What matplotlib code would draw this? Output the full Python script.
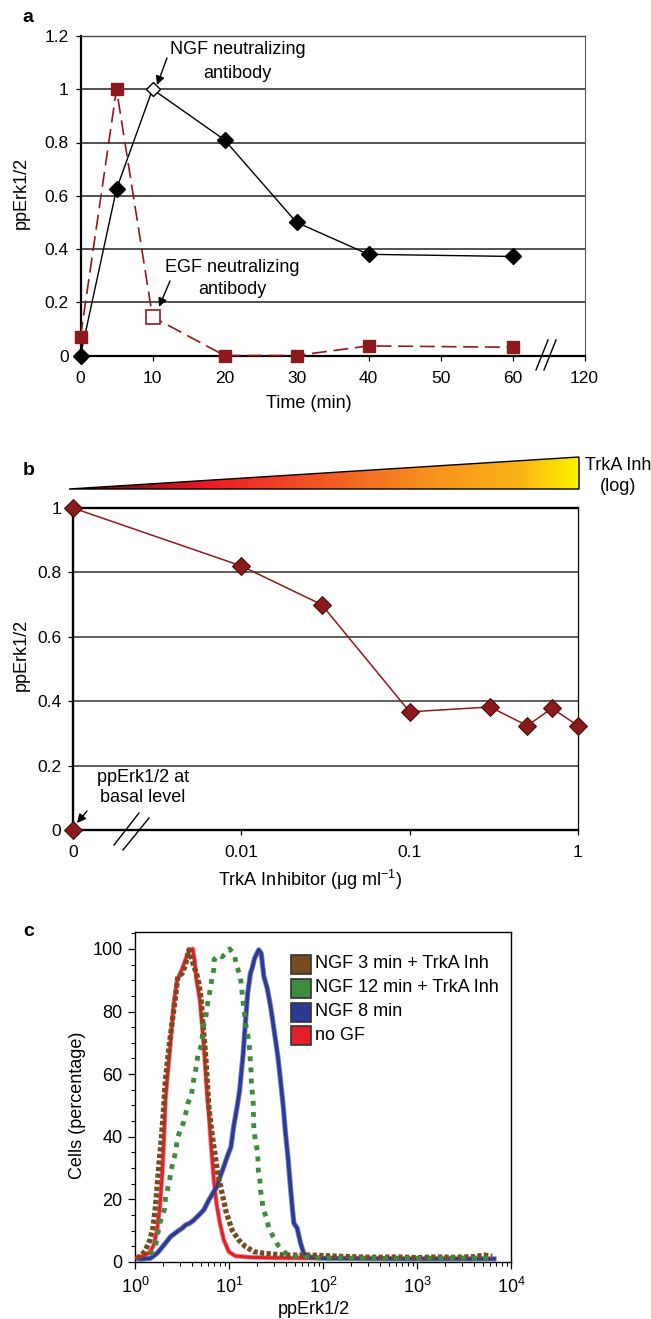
import numpy as np
import matplotlib
matplotlib.use('Agg')
import matplotlib.pyplot as plt
from matplotlib.colors import LinearSegmentedColormap
from matplotlib.patches import Polygon, Rectangle
from matplotlib.lines import Line2D
from matplotlib.ticker import MultipleLocator, FixedLocator, NullLocator, LogLocator

plt.rcParams['font.family'] = ['Liberation Sans', 'DejaVu Sans']
plt.rcParams['mathtext.fontset'] = 'custom'
plt.rcParams['mathtext.rm'] = 'Liberation Sans'
plt.rcParams['mathtext.it'] = 'Liberation Sans:italic'
plt.rcParams['mathtext.bf'] = 'Liberation Sans:bold'
plt.rcParams['mathtext.default'] = 'regular'

# ---------------- data: panel a ----------------
time_min = [0, 5, 10, 20, 30, 40, 60]
ngf_pperk = [0.0, 0.625, 1.0, 0.81, 0.50, 0.38, 0.372]
egf_pperk = [0.07, 1.0, 0.145, 0.0, 0.0, 0.036, 0.031]
a_xtick_pos = [0, 10, 20, 30, 40, 50, 60, 70]
a_xtick_labels = ['0', '10', '20', '30', '40', '50', '60', '120']
a_yticks = [0, 0.2, 0.4, 0.6, 0.8, 1.0, 1.2]
a_ytick_labels = ['0', '0.2', '0.4', '0.6', '0.8', '1', '1.2']

# ---------------- data: panel b ----------------
trka_conc = [0, 0.01, 0.03, 0.1, 0.3, 0.5, 0.7, 1.0]
trka_pperk = [1.0, 0.82, 0.70, 0.367, 0.382, 0.324, 0.378, 0.324]
basal_conc = [0]
basal_pperk = [0.0]
b_xticks = [0.001, 0.01, 0.1, 1]
b_xtick_labels = ['0', '0.01', '0.1', '1']
b_yticks = [0, 0.2, 0.4, 0.6, 0.8, 1.0]
b_ytick_labels = ['0', '0.2', '0.4', '0.6', '0.8', '1']

# ---------------- data: panel c (flow cytometry histograms) ----------------
nogf_x = [1.04, 1.29, 1.46, 1.58, 1.72, 1.84, 1.95, 2.03, 2.11, 2.23, 2.35, 2.48, 2.59,
          2.81, 3.10, 3.44, 3.83, 4.12, 4.30, 4.51, 4.90, 5.19, 5.50, 5.77, 6.10, 6.46,
          6.90, 7.36, 8.00, 8.81, 9.95, 11.7, 16.9, 31.6, 79.0]
nogf_y = [1.4, 2.2, 3.3, 5.4, 10.2, 17.7, 28.3, 39.0, 51.8, 60.3, 67.7, 76.3, 82.6,
          90.1, 92.8, 96.5, 99.7, 100.0, 96.5, 90.1, 83.7, 75.2, 65.6, 56.0, 47.5, 36.8,
          26.2, 18.7, 12.4, 7.0, 3.3, 1.9, 1.5, 1.3, 1.2]

ngf3_x = [1.05, 1.15, 1.29, 1.44, 1.56, 1.65, 1.72, 1.79, 1.90, 2.00, 2.08, 2.20, 2.35,
          2.53, 2.70, 2.86, 3.18, 3.44, 3.74, 3.96, 4.23, 4.51, 4.78, 5.06, 5.31, 5.62,
          5.86, 6.10, 6.46, 6.90, 7.60, 8.45, 9.40, 10.8, 12.7, 15.0, 18.4, 23.4, 38.3,
          73.6, 158, 316, 631, 1000, 1585, 2512, 3981, 5248, 6310]
ngf3_y = [1.5, 1.7, 3.8, 7.0, 11.3, 17.7, 24.1, 30.5, 39.0, 47.5, 56.0, 63.5, 70.9,
          78.4, 84.8, 91.2, 92.2, 94.9, 99.7, 97.5, 94.4, 92.2, 89.0, 83.7, 75.2, 66.7,
          58.1, 49.6, 43.2, 36.8, 28.3, 21.9, 15.5, 10.2, 7.0, 4.9, 3.3, 2.8, 2.2,
          2.2, 1.8, 1.5, 1.6, 1.4, 1.6, 1.5, 1.7, 2.2, 1.8]

ngf12_x = [1.46, 1.65, 1.79, 1.90, 2.08, 2.11, 2.23, 2.35, 2.43, 2.59, 2.72, 2.81, 3.00,
           3.31, 3.48, 3.65, 3.99, 4.12, 4.30, 4.51, 4.66, 5.09, 5.22, 5.40, 5.68, 5.86,
           6.10, 6.35, 6.62, 6.90, 6.95, 7.80, 8.45, 9.18, 10.2, 11.5, 12.0, 13.0, 13.5,
           13.8, 14.1, 14.6, 15.0, 15.6, 16.3, 16.7, 16.9, 17.2, 17.3, 17.7, 18.1, 18.2,
           18.3, 18.5, 19.1, 20.0, 20.3, 20.5, 21.3, 21.6, 22.5, 22.9, 25.1, 26.5, 29.5,
           33.1, 38.9, 45.1, 100, 1000, 6310]
ngf12_y = [2.2, 4.9, 10.8, 14.0, 17.2, 20.9, 23.5, 26.7, 29.6, 32.8, 35.5, 39.0, 41.9,
           44.8, 47.7, 50.7, 53.4, 56.5, 59.7, 62.6, 66.1, 69.3, 72.5, 75.7, 78.6, 81.6,
           84.8, 87.4, 91.2, 93.5, 96.7, 98.1, 97.5, 98.4, 100.0, 97.8, 94.6, 91.9, 89.0,
           85.8, 83.2, 79.5, 76.3, 73.6, 70.1, 66.7, 63.7, 60.5, 57.1, 54.1, 50.9, 47.7,
           44.1, 41.6, 38.8, 35.6, 32.8, 29.4, 26.2, 23.0, 20.0, 17.2, 14.0, 10.8, 8.1,
           5.4, 3.1, 1.9, 1.2, 1.2, 1.3]

ngf8_x = [1.10, 1.15, 1.46, 1.72, 2.03, 2.39, 2.81, 3.18, 3.44, 3.83, 4.23, 4.78, 5.40,
          6.10, 6.90, 7.48, 7.80, 8.81, 9.72, 10.5, 11.2, 12.2, 13.0, 13.5, 14.1, 15.0,
          15.8, 16.9, 17.7, 18.7, 20.7, 22.0, 23.5, 25.5, 27.7, 30.5, 33.1, 35.3, 37.8,
          39.9, 42.3, 44.4, 47.0, 49.0, 53.1, 57.7, 62.5, 67.9, 100, 1000, 6607]
ngf8_y = [1.0, 0.9, 1.2, 2.8, 5.4, 8.1, 9.7, 10.8, 11.8, 12.4, 13.4, 15.0, 16.6,
          19.8, 22.5, 24.1, 26.2, 30.5, 34.2, 36.8, 43.2, 49.6, 55.0, 60.3, 66.0, 77.0,
          85.8, 92.2, 94.0, 97.0, 99.7, 98.6, 91.2, 87.4, 81.6, 73.1, 65.6, 58.1, 49.6,
          41.2, 33.7, 26.2, 17.7, 12.4, 10.8, 6.0, 2.8, 1.7, 1.2, 1.0, 1.0]

legend_labels = ['NGF 3 min + TrkA Inh', 'NGF 12 min + TrkA Inh', 'NGF 8 min', 'no GF']
c_xticks = [1, 10, 100, 1000, 10000]
c_xtick_labels = ['$10^{0}$', '$10^{1}$', '$10^{2}$', '$10^{3}$', '$10^{4}$']
c_yticks = [0, 20, 40, 60, 80, 100]

# ---------------- layout helpers ----------------
W, H = 651, 1319
fig = plt.figure(figsize=(W / 100, H / 100), dpi=100)


def ax_at(l, t, r, b):
    return fig.add_axes([l / W, 1 - b / H, (r - l) / W, (b - t) / H])


def fx(x):
    return x / W


def fy(y):
    return 1 - y / H


def fig_line(x0, y0, x1, y1, lw=1.0, color='black'):
    fig.add_artist(Line2D([fx(x0), fx(x1)], [fy(y0), fy(y1)], transform=fig.transFigure,
                          color=color, lw=lw))


def fig_arrow(x0, y0, x1, y1):
    fig.add_artist(matplotlib.patches.FancyArrowPatch(
        (fx(x0), fy(y0)), (fx(x1), fy(y1)), transform=fig.transFigure,
        arrowstyle='-|>', mutation_scale=13, color='black', lw=1.0, shrinkA=0, shrinkB=0))


FS = 13
TFS = 12.5
DARKRED = '#8c1a1c'

# ================= panel a =================
axa = ax_at(80.5, 36, 584.5, 355.5)
axa.set_xlim(0, 70)
axa.set_ylim(0, 1.2)
axa.set_yticks(a_yticks)
axa.set_yticklabels(a_ytick_labels)
axa.set_xticks(a_xtick_pos)
axa.set_xticklabels(a_xtick_labels)
axa.tick_params(axis='both', direction='out', length=3.5, width=0.9, labelsize=TFS, pad=5)
axa.tick_params(axis='x', pad=8)
axa.grid(axis='y', color='#333333', lw=1.2)
axa.set_axisbelow(True)
for s in ['left', 'bottom']:
    axa.spines[s].set_linewidth(1.6)
axa.spines['top'].set_linewidth(1.0)
axa.spines['top'].set_color('#444444')
axa.spines['right'].set_linewidth(0.8)
axa.spines['right'].set_color('#555555')

axa.plot(time_min, ngf_pperk, color='black', lw=1.0, zorder=3, clip_on=False)
ngf_filled = [i for i in range(len(time_min)) if i != 2]
axa.plot([time_min[i] for i in ngf_filled], [ngf_pperk[i] for i in ngf_filled], 'D',
         color='black', ms=8, zorder=4, clip_on=False)
axa.plot([time_min[2]], [ngf_pperk[2]], 'D', mfc='white', mec='black', mew=1.0, ms=7.5,
         zorder=5, clip_on=False)

axa.plot(time_min, egf_pperk, color=DARKRED, lw=1.2, ls=(0, (9, 4)), zorder=3, clip_on=False)
egf_filled = [i for i in range(len(time_min)) if i != 2]
axa.plot([time_min[i] for i in egf_filled], [egf_pperk[i] for i in egf_filled], 's',
         color=DARKRED, ms=9, zorder=4, clip_on=False)
axa.plot([time_min[2]], [egf_pperk[2]], 's', mfc='white', mec=DARKRED, mew=1.2, ms=10.5,
         zorder=5, clip_on=False)

fig.text(fx(237.5), fy(50), 'NGF neutralizing', ha='center', va='center', fontsize=FS)
fig.text(fx(237.5), fy(73), 'antibody', ha='center', va='center', fontsize=FS)
fig_arrow(167, 58, 157, 85)
fig.text(fx(232), fy(268), 'EGF neutralizing', ha='center', va='center', fontsize=FS)
fig.text(fx(232), fy(290), 'antibody', ha='center', va='center', fontsize=FS)
fig_arrow(170, 281, 159, 307)
fig_line(536, 370, 548, 340, lw=1.0)
fig_line(544, 370, 556, 340, lw=1.0)

fig.text(fx(21), fy(193), 'ppErk1/2', rotation=90, ha='center', va='center', fontsize=FS)
fig.text(fx(309), fy(403), 'Time (min)', ha='center', va='center', fontsize=FS)
fig.text(fx(28), fy(17), 'a', ha='center', va='center', fontsize=14, fontweight='bold')

# ================= panel b =================
axb = ax_at(73, 508, 578, 830)
axb.set_xscale('log')
axb.set_xlim(1e-3, 1)
axb.set_ylim(0, 1)
axb.xaxis.set_major_locator(FixedLocator(b_xticks))
axb.xaxis.set_minor_locator(NullLocator())
axb.set_xticklabels(b_xtick_labels)
axb.set_yticks(b_yticks)
axb.set_yticklabels(b_ytick_labels)
axb.tick_params(axis='both', direction='out', length=3.5, width=0.9, labelsize=TFS, pad=5)
axb.tick_params(axis='x', pad=7)
for v in b_yticks[1:-1]:
    axb.axhline(v, color='#333333', lw=1.1, zorder=1)
for s in ['left', 'bottom', 'top']:
    axb.spines[s].set_linewidth(1.7)
axb.spines['right'].set_linewidth(0.9)

conc_plot = [c if c > 0 else 1e-3 for c in trka_conc]
basal_plot = [c if c > 0 else 1e-3 for c in basal_conc]
axb.plot(conc_plot, trka_pperk, color=DARKRED, lw=1.1, zorder=3, clip_on=False)
axb.plot(conc_plot, trka_pperk, 'D', mfc=DARKRED, mec='#3a0808', mew=0.7, ms=9, zorder=4,
         clip_on=False)
axb.plot(basal_plot, basal_pperk, 'D', mfc=DARKRED, mec='#3a0808', mew=0.7, ms=9, zorder=4,
         clip_on=False)

fig.text(fx(143), fy(777), 'ppErk1/2 at', ha='center', va='center', fontsize=FS)
fig.text(fx(143), fy(798), 'basal level', ha='center', va='center', fontsize=FS)
fig_arrow(87, 811, 77, 823)
fig_line(114, 845, 139, 813, lw=1.0)
fig_line(123, 850, 149, 818, lw=1.0)

# gradient triangle
axt = ax_at(69, 457, 579, 489)
axt.set_xlim(0, 1)
axt.set_ylim(0, 1)
axt.axis('off')
cmap = LinearSegmentedColormap.from_list('trk', [(0.0, '#5a0c0e'), (0.28, '#ed1c24'),
                                                 (0.5, '#f15a24'), (0.72, '#f7941d'),
                                                 (0.88, '#fbb117'), (1.0, '#fff200')])
grad = np.linspace(0, 1, 512)[None, :]
im = axt.imshow(grad, extent=[0, 1, 0, 1], aspect='auto', cmap=cmap, origin='lower')
tri = Polygon([[0, 0], [1, 0], [1, 1]], closed=True, transform=axt.transData,
              facecolor='none', edgecolor='black', lw=1.0)
axt.add_patch(tri)
im.set_clip_path(tri)
tri.set_clip_on(False)

fig.text(fx(618), fy(465), 'TrkA Inh', ha='center', va='center', fontsize=FS)
fig.text(fx(618), fy(487), '(log)', ha='center', va='center', fontsize=FS)

fig.text(fx(21), fy(655), 'ppErk1/2', rotation=90, ha='center', va='center', fontsize=FS)
fig.text(fx(310), fy(880), 'TrkA Inhibitor (μg ml$^{-1}$)', ha='center', va='center',
         fontsize=FS)
fig.text(fx(29), fy(470), 'b', ha='center', va='center', fontsize=14, fontweight='bold')

# ================= panel c =================
axc = ax_at(135, 932, 511, 1262)
axc.set_xscale('log')
axc.set_xlim(1, 1e4)
axc.set_ylim(0, 105.4)
axc.xaxis.set_major_locator(FixedLocator(c_xticks))
axc.xaxis.set_minor_locator(LogLocator(base=10, subs=np.arange(2, 10), numticks=20))
axc.set_xticklabels(c_xtick_labels)
axc.xaxis.set_minor_formatter(matplotlib.ticker.NullFormatter())
axc.set_yticks(c_yticks)
axc.yaxis.set_minor_locator(MultipleLocator(5))
axc.tick_params(axis='both', which='major', direction='out', length=5, width=0.9,
                labelsize=FS, pad=4)
axc.tick_params(axis='both', which='minor', direction='out', length=3, width=0.8)
axc.tick_params(axis='x', which='major', pad=6)
for s in axc.spines.values():
    s.set_linewidth(1.0)

RED = '#e3202a'
BLUE = '#2b3a93'
GREEN = '#3d8c3d'
BROWN = '#7a4a1f'
# soft halo under the solid traces, as in the scanned original
axc.plot(nogf_x, nogf_y, color='#f08a8e', lw=3.4, solid_joinstyle='round', zorder=2)
axc.plot(nogf_x, nogf_y, color=RED, lw=2.2, solid_joinstyle='round', zorder=3)
axc.plot(ngf8_x, ngf8_y, color='#7f87c0', lw=3.8, solid_joinstyle='round', zorder=2)
axc.plot(ngf8_x, ngf8_y, color=BLUE, lw=2.5, solid_joinstyle='round', zorder=3)
axc.plot(ngf3_x, ngf3_y, color=BROWN, lw=3.8, ls=(0, (0.8, 0.45)), dash_capstyle='butt',
         zorder=4)
axc.plot(ngf12_x, ngf12_y, color=GREEN, lw=3.5, ls=(0, (1.0, 1.3)), dash_capstyle='butt',
         zorder=5)

leg_colors = [BROWN, GREEN, BLUE, RED]
leg_rows = [964, 988, 1012, 1035]
for lab, col, yc in zip(legend_labels, leg_colors, leg_rows):
    fig.add_artist(Rectangle((fx(291), fy(yc + 9.5)), 20 / W, 19 / H, transform=fig.transFigure,
                             facecolor=col, edgecolor='#333333', lw=1.2))
    fig.text(fx(315), fy(yc), lab, ha='left', va='center', fontsize=FS)

fig.text(fx(77), fy(1105), 'Cells (percentage)', rotation=90, ha='center', va='center',
         fontsize=FS)
fig.text(fx(314), fy(1309), 'ppErk1/2', ha='center', va='center', fontsize=FS)
fig.text(fx(29), fy(932), 'c', ha='center', va='center', fontsize=14, fontweight='bold')

fig.savefig('out.png', dpi=100)
